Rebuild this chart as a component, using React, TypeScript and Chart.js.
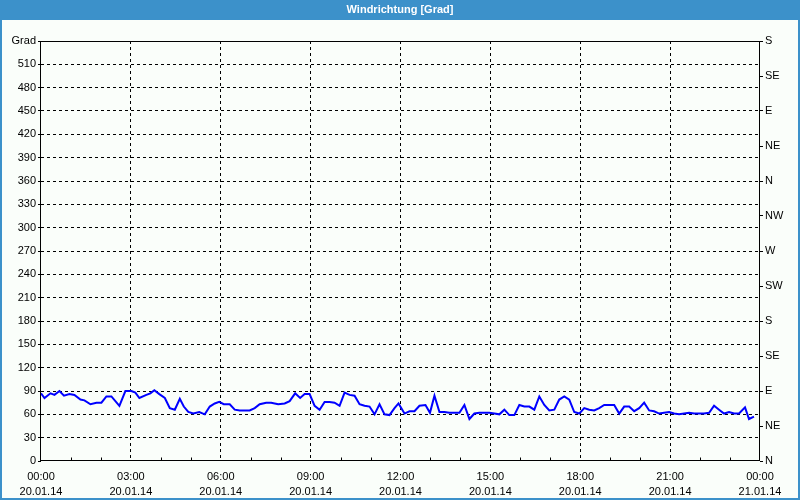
import React, { useEffect, useRef } from 'react';
import { Chart, registerables } from 'chart.js';

Chart.register(...registerables);

const TITLE = 'Windrichtung [Grad]';
const Y_UNIT = 'Grad';

// minutes since 20.01.14 00:00
const TIMES_MIN = [
  0, 7, 19, 27, 37, 46, 57, 67, 79, 87, 99, 111, 121, 131, 141, 157, 169, 181, 189, 197, 211, 219, 227, 237,
  248, 258, 268, 278, 286, 295, 305, 317, 328, 338, 348, 357, 366, 378, 388, 398, 408, 418, 428, 438, 451, 461, 475,
  488, 498, 509, 519, 528, 538, 548, 558, 568, 578, 588, 598, 608, 618, 628, 638, 648, 658, 668, 678, 688, 698, 708, 716,
  728, 738, 748, 758, 770, 779, 788, 798, 808, 818, 828, 838, 848, 858, 868, 878, 888, 898, 908, 918, 928, 938, 948, 958,
  968, 978, 988, 998, 1008, 1018, 1028, 1038, 1048, 1058, 1068, 1078, 1088, 1098, 1108, 1118, 1128, 1138, 1148, 1158, 1168, 1178, 1188, 1198,
  1208, 1218, 1228, 1238, 1248, 1258, 1268, 1278, 1288, 1298, 1308, 1318, 1328, 1338, 1348, 1358, 1368, 1378, 1388, 1398, 1410, 1418, 1428,
];

const DIRECTION_DEG = [
  87, 81, 87, 85, 90, 84, 86, 85, 79, 78, 73, 75, 75, 83, 83, 71, 90, 90, 88, 81, 85, 87, 91, 86,
  81, 68, 66, 80, 70, 63, 61, 63, 60, 70, 74, 76, 73, 73, 66, 65, 65, 65, 68, 73, 75, 75, 73,
  74, 77, 87, 81, 86, 86, 71, 66, 76, 76, 75, 71, 88, 85, 84, 73, 71, 70, 60, 73, 60, 59, 68, 74,
  61, 64, 64, 71, 72, 62, 84, 63, 63, 62, 62, 62, 72, 54, 61, 62, 62, 62, 61, 60, 66, 59, 59, 72,
  70, 70, 66, 83, 72, 65, 66, 79, 83, 79, 63, 61, 68, 66, 65, 68, 72, 72, 72, 61, 70, 70, 64, 68,
  75, 65, 64, 61, 62, 63, 61, 60, 61, 62, 61, 61, 61, 62, 71, 66, 61, 63, 61, 61, 69, 54, 57,
];

const X_LABEL_TIMES = ['00:00', '03:00', '06:00', '09:00', '12:00', '15:00', '18:00', '21:00', '00:00'];
const X_LABEL_DATES = ['20.01.14', '20.01.14', '20.01.14', '20.01.14', '20.01.14', '20.01.14', '20.01.14', '20.01.14', '21.01.14'];
const COMPASS = ['N', 'NE', 'E', 'SE', 'S', 'SW', 'W', 'NW', 'N', 'NE', 'E', 'SE', 'S'];

const FONT = { family: 'Liberation Sans', size: 11, lineHeight: '15px' };
const BG = '#fafefa';
const FRAME_BLUE = '#3c91ca';

const decorPlugin = {
  id: 'decor',
  beforeDraw(chart: any) {
    const { ctx, width, height } = chart;
    ctx.save();
    ctx.fillStyle = BG;
    ctx.fillRect(0, 0, width, height);
    ctx.fillStyle = FRAME_BLUE;
    ctx.fillRect(0, 0, width, 20);
    ctx.fillRect(0, 0, 2, height);
    ctx.fillRect(width - 2, 0, 2, height);
    ctx.fillRect(0, height - 2, width, 2);
    ctx.fillStyle = '#ffffff';
    ctx.font = 'bold 11px "Liberation Sans"';
    ctx.textAlign = 'center';
    ctx.textBaseline = 'middle';
    ctx.fillText(TITLE, width / 2, 10);
    ctx.restore();
  },
  afterDraw(chart: any) {
    const { ctx, chartArea } = chart;
    const xs = chart.scales.x;
    ctx.save();
    ctx.strokeStyle = '#000';
    ctx.lineWidth = 1;
    ctx.setLineDash([]);
    const l = Math.round(chartArea.left) - 0.5;
    const t = Math.round(chartArea.top) + 0.5;
    const r = Math.round(chartArea.right) - 0.5;
    const b = Math.round(chartArea.bottom) - 0.5;
    ctx.strokeRect(l, t, r - l, b - t);
    ctx.beginPath();
    for (let h = 1; h < 24; h++) {
      if (h % 3 === 0) continue;
      const x = Math.round(xs.getPixelForValue(h * 60)) + 0.5;
      ctx.moveTo(x, b - 3);
      ctx.lineTo(x, b);
    }
    ctx.stroke();
    ctx.restore();
  },
};

export default function App() {
  const ref = useRef<HTMLCanvasElement | null>(null);

  useEffect(() => {
    document.body.style.margin = '0';
    const canvas = ref.current;
    if (!canvas) return;
    const chart = new Chart(canvas, {
      type: 'line',
      data: {
        datasets: [
          {
            data: TIMES_MIN.map((t, i) => ({ x: t, y: DIRECTION_DEG[i] })),
            borderColor: '#0000ff',
            borderWidth: 2,
            pointRadius: 0,
            tension: 0,
            fill: false,
            yAxisID: 'y',
          },
        ],
      },
      options: {
        responsive: false,
        animation: false,
        layout: { padding: { top: 41, left: 0, right: 0, bottom: 0 } },
        plugins: { legend: { display: false }, tooltip: { enabled: false }, title: { display: false } },
        scales: {
          x: {
            type: 'linear',
            min: 0,
            max: 1440,
            afterFit: (s: any) => { s.height = 39; },
            ticks: {
              stepSize: 60,
              autoSkip: false,
              maxRotation: 0,
              minRotation: 0,
              padding: 8,
              color: '#000',
              font: FONT,
              callback: (v: any) => {
                const n = Number(v);
                if (n % 180 !== 0) return '';
                const i = n / 180;
                return [X_LABEL_TIMES[i], X_LABEL_DATES[i]];
              },
            },
            grid: {
              drawTicks: false,
              lineWidth: 1,
              color: (c: any) => {
                const v = c.tick ? c.tick.value : -1;
                return v % 180 === 0 && v > 0 && v < 1440 ? '#000' : 'rgba(0,0,0,0)';
              },
            },
            border: { display: false, dash: [3, 3] },
          },
          y: {
            position: 'left',
            min: 0,
            max: 540,
            afterFit: (s: any) => { s.width = 41; },
            ticks: {
              stepSize: 30,
              padding: 2,
              color: '#000',
              font: FONT,
              callback: (v: any) => (Number(v) === 540 ? Y_UNIT : String(v)),
            },
            grid: {
              drawTicks: true,
              tickLength: 3,
              tickColor: '#000',
              lineWidth: 1,
              color: (c: any) => {
                const v = c.tick ? c.tick.value : -1;
                return v > 0 && v < 540 ? '#000' : 'rgba(0,0,0,0)';
              },
            },
            border: { display: false, dash: [3, 3] },
          },
          yR: {
            position: 'right',
            min: 0,
            max: 540,
            afterFit: (s: any) => { s.width = 40; },
            ticks: {
              stepSize: 45,
              padding: 2,
              color: '#000',
              font: FONT,
              callback: (v: any) => COMPASS[Math.round(Number(v) / 45)] ?? '',
            },
            grid: {
              drawOnChartArea: false,
              drawTicks: true,
              tickLength: 3,
              color: '#000',
            },
            border: { display: false },
          },
        },
      },
      plugins: [decorPlugin],
    } as any);
    return () => chart.destroy();
  }, []);

  return <canvas ref={ref} width={800} height={500} style={{ display: 'block', width: 800, height: 500 }} />;
}
